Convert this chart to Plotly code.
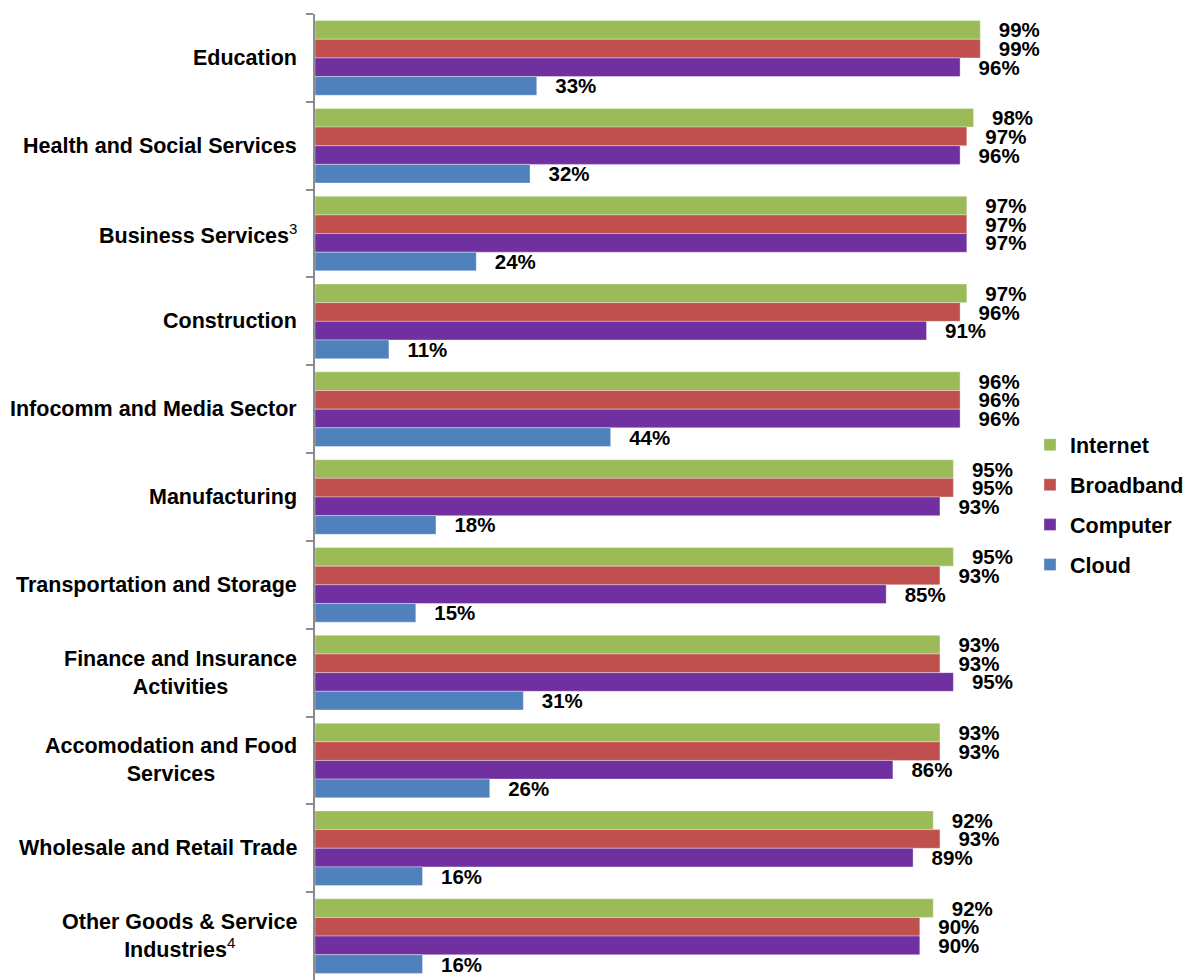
import plotly.graph_objects as go

# Industry sectors (top to bottom) and adoption rates in percent
sectors = [
    "Education",
    "Health and Social Services",
    "Business Services<sup>3</sup>",
    "Construction",
    "Infocomm and Media Sector",
    "Manufacturing",
    "Transportation and Storage",
    "Finance and Insurance<br>Activities",
    "Accomodation and Food<br>Services",
    "Wholesale and Retail Trade",
    "Other Goods & Service<br>Industries<sup>4</sup>",
]
sector_keys = [f"s{i}" for i in range(len(sectors))]

internet = [99, 98, 97, 97, 96, 95, 95, 93, 93, 92, 92]
broadband = [99, 97, 97, 96, 96, 95, 93, 93, 93, 93, 90]
computer = [96, 96, 97, 91, 96, 93, 85, 95, 86, 89, 90]
cloud = [33, 32, 24, 11, 44, 18, 15, 31, 26, 16, 16]

series = [
    ("Internet", internet, "#9BBB59"),
    ("Broadband", broadband, "#C0504D"),
    ("Computer", computer, "#7030A0"),
    ("Cloud", cloud, "#4F81BD"),
]

FONT = "Arial, Liberation Sans, sans-serif"

fig = go.Figure()
for name, vals, color in series:
    fig.add_trace(go.Bar(
        name=name,
        y=sector_keys,
        x=vals,
        orientation="h",
        marker=dict(color=color, line=dict(color="rgba(255,255,255,0.45)", width=0.8)),
        text=[f"\u00a0\u00a0\u2009{v}%" for v in vals],
        textposition="outside",
        textfont=dict(family=FONT, size=20.5, color="black", weight="bold"),
        constraintext="none",
        cliponaxis=False,
        legendgroup=name,
    ))

# Sector names, centered multi-line labels right-aligned against the axis
for key, label in zip(sector_keys, sectors):
    if "<sup>" in label:
        main, sup = label.split("<sup>")
        sup = sup.replace("</sup>", "")
        lines = main.split("<br>")
        txt = "<br>".join(f"<b>{ln}</b>" for ln in lines) + f"<sup>{sup}</sup>"
    else:
        txt = "<br>".join(f"<b>{ln}</b>" for ln in label.split("<br>"))
    fig.add_annotation(
        x=0, xref="paper", y=key, yref="y",
        text=txt, showarrow=False,
        xanchor="right", xshift=-16, align="center",
        font=dict(family=FONT, size=21.5, color="black"),
    )

fig.update_layout(
    width=1189, height=980,
    margin=dict(l=315, r=202, t=14, b=0),
    paper_bgcolor="white", plot_bgcolor="white",
    barmode="group", bargap=0.15, bargroupgap=0,
    showlegend=True,
    legend=dict(
        x=1.064, xanchor="left", y=0.492, yanchor="middle",
        font=dict(family=FONT, size=21.5, color="black", weight="bold"),
        tracegroupgap=9, itemwidth=30, traceorder="grouped",
        bgcolor="rgba(0,0,0,0)",
    ),
    xaxis=dict(range=[0, 100], visible=False, showgrid=False, zeroline=False),
    yaxis=dict(
        type="category", autorange="reversed",
        showticklabels=False, showgrid=False, zeroline=False,
        showline=True, linecolor="#8C8C8C", linewidth=1.5,
        ticks="outside", tickson="boundaries", ticklen=7,
        tickcolor="#8C8C8C", tickwidth=1.5,
    ),
)

fig.write_html("out.html")
